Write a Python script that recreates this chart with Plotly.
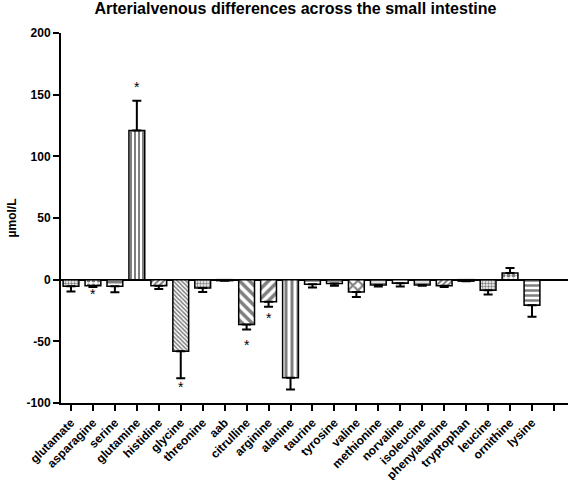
import plotly.graph_objects as go

categories = ["glutamate", "asparagine", "serine", "glutamine", "histidine", "glycine",
              "threonine", "aab", "citrulline", "arginine", "alanine", "taurine",
              "tyrosine", "valine", "methionine", "norvaline", "isoleucine",
              "phenylalanine", "tryptophan", "leucine", "ornithine", "lysine"]
values = [-5.4, -4.9, -5.4, 121.0, -4.9, -58.0, -6.8, -0.8, -36.4, -18.0, -79.6, -3.8,
          -3.2, -10.0, -4.3, -3.0, -4.3, -5.0, -1.2, -8.6, 5.4, -20.8]
errors = [4.1, 1.1, 4.9, 24.0, 2.7, 22.0, 3.2, 0.0, 4.1, 4.0, 9.4, 2.5,
          1.8, 4.0, 1.2, 2.5, 0.7, 1.0, 0.0, 3.4, 4.1, 9.2]
patterns = [".", ".", "-", "|", "/", "\\", ".", "", "\\", "/", "|", "-",
            "-", "x", "-", "-", "-", "/", "", ".", ".", "-"]
pattern_sizes = [3, 5, 6, 4, 4, 3, 3, 6, 7, 7, 6, 5,
                 5, 7, 3, 4, 3, 4, 6, 3, 5, 5]
sig_categories = ["asparagine", "glutamine", "glycine", "citrulline", "arginine"]
sig_y = [-12, 156, -87, -53, -31]

plus = [e if v > 0 else 0 for v, e in zip(values, errors)]
minus = [e if v < 0 else 0 for v, e in zip(values, errors)]

font = "Arial, Liberation Sans, sans-serif"

fig = go.Figure()
fig.add_trace(go.Bar(
    x=list(range(len(categories))), y=values, width=0.72,
    marker=dict(color="white", line=dict(color="black", width=1.5),
                pattern=dict(shape=patterns, size=pattern_sizes, solidity=0.5,
                             fgcolor="black", bgcolor="white")),
    error_y=dict(type="data", symmetric=False, array=plus, arrayminus=minus,
                 color="black", thickness=2, width=4.5),
    showlegend=False, hoverinfo="skip",
))

for c, yv in zip(sig_categories, sig_y):
    fig.add_annotation(x=categories.index(c), y=yv, text="*", showarrow=False,
                       font=dict(family=font, size=14, color="black"))

fig.update_layout(
    width=568, height=480,
    margin=dict(l=61, r=0, t=33, b=77, autoexpand=False),
    paper_bgcolor="white", plot_bgcolor="white",
    title=dict(text="<b>Arterialvenous differences across the small intestine</b>",
               x=0.52, xanchor="center", y=0.995, yanchor="top",
               font=dict(family=font, size=16, color="black")),
    font=dict(family=font, color="black"),
)
fig.update_xaxes(
    range=[-0.455, 22.64], automargin=False,
    tickvals=list(range(len(categories) + 1)),
    ticktext=["<b>%s</b>" % c for c in categories] + [""],
    tickangle=-45, ticks="outside", ticklen=6, tickwidth=1.5, tickcolor="black",
    showline=True, linecolor="black", linewidth=2, showgrid=False, zeroline=False,
    tickfont=dict(family=font, size=12, color="black"),
)
fig.update_yaxes(
    range=[-100, 200], automargin=False,
    tickvals=[-100, -50, 0, 50, 100, 150, 200],
    ticktext=["<b>%d</b>" % v for v in [-100, -50, 0, 50, 100, 150, 200]],
    ticks="outside", ticklen=6, tickwidth=1.5, tickcolor="black",
    showline=True, linecolor="black", linewidth=2, showgrid=False,
    zeroline=True, zerolinecolor="black", zerolinewidth=2,
    title=dict(text="<b>µmol/L</b>", font=dict(family=font, size=12, color="black"),
               standoff=7),
    tickfont=dict(family=font, size=12, color="black"),
)

fig.write_html("out.html", config={"displayModeBar": False},
               post_script="document.body.style.margin='0';")
